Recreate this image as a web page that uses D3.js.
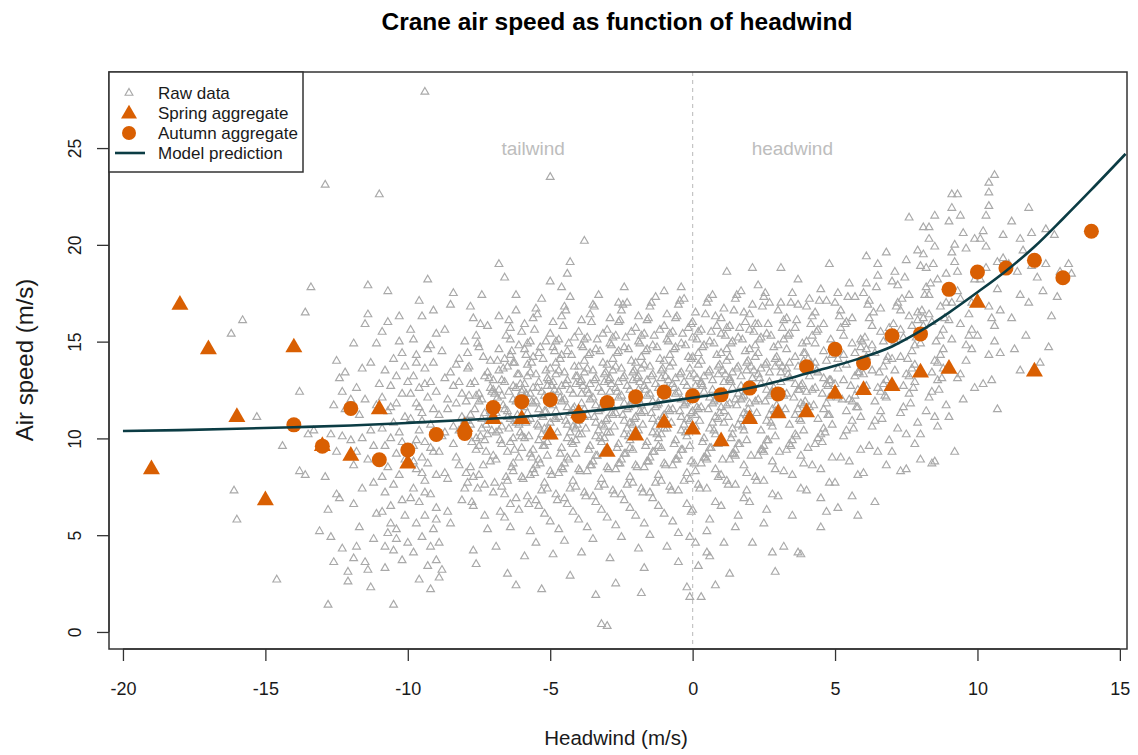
<!DOCTYPE html>
<html>
<head>
<meta charset="utf-8">
<script src="https://cdn.jsdelivr.net/npm/d3@7"></script>
<style>
  body { margin: 0; background: #fff; }
  text { font-family: "Liberation Sans", Arial, sans-serif; }
</style>
</head>
<body>
<script>
// axis ticks
const xTicks = [-20, -15, -10, -5, 0, 5, 10, 15];
const yTicks = [0, 5, 10, 15, 20, 25];

// aggregates (per whole m/s of headwind)
const springX = [-19, -18, -17, -16, -15, -14, -13, -12, -11, -10, -8, -7, -6, -5, -4, -3, -2, -1, 0, 1, 2, 3, 4, 5, 6, 7, 8, 9, 10, 12];
const springY = [8.4, 16.9, 14.6, 11.1, 6.8, 14.7, 9.6, 9.1, 11.5, 8.7, 10.6, 11.0, 11.0, 10.2, 11.3, 9.3, 10.15, 10.8, 10.45, 9.85, 11.0, 11.3, 11.35, 12.3, 12.5, 12.7, 13.4, 13.6, 17.0, 13.45];
const autumnX = [-14, -13, -12, -11, -10, -9, -8, -7, -6, -5, -4, -3, -2, -1, 0, 1, 2, 3, 4, 5, 6, 7, 8, 9, 10, 11, 12, 13, 14];
const autumnY = [10.7, 9.6, 11.55, 8.9, 9.4, 10.2, 10.25, 11.6, 11.9, 12.0, 11.15, 11.85, 12.15, 12.4, 12.2, 12.25, 12.6, 12.3, 13.7, 14.6, 13.9, 15.3, 15.4, 17.7, 18.6, 18.8, 19.2, 18.3, 20.7];

// model curve
const modelX = [-20, -18, -16, -14, -12, -10, -8, -6, -4, -2, 0, 1, 2, 3, 4, 5, 6, 7, 8, 9, 10, 11, 12, 13, 14, 15.2];
const modelY = [10.38, 10.43, 10.5, 10.58, 10.67, 10.8, 10.95, 11.12, 11.35, 11.68, 12.1, 12.32, 12.6, 12.95, 13.35, 13.75, 14.2, 14.75, 15.55, 16.5, 17.55, 18.65, 19.9, 21.35, 22.85, 24.7];

// raw observations [headwind, air speed]
const rawLeft = [
[-16.2,15.4],[-15.8,16.1],[-16.1,7.3],[-16.0,5.8],[-15.3,11.1],[-14.6,2.7],[-14.4,9.6],[-13.8,8.3],[-13.6,8.1],[-13.4,17.8],[-13.6,16.5],[-13.8,12.4],[-13.1,5.2],[-13.5,10.2],[-13.3,10.4],
[-12.9,23.1],[-12.8,1.4],[-12.4,6.9],[-12.5,7.1],[-12.3,4.3],[-12.6,3.6],[-12.7,4.9],[-12.1,3.1],[-12.1,2.6],[-12.5,14.0],[-12.2,13.4],[-12.4,13.1],[-12.3,12.4],[-12.0,12.0],[-12.7,10.2],[-12.3,10.1],[-12.0,9.9],[-12.5,9.3],[-12.9,8.0],[-12.2,11.5],[-12.6,11.7],[-12.8,6.3],
[-11.9,14.9],[-11.4,17.9],[-11.1,14.9],[-11.9,8.6],[-11.6,7.4],[-11.2,7.7],[-11.9,3.8],[-11.5,3.6],[-11.4,3.2],[-11.3,2.3],[-11.0,22.6],[-11.8,12.6],[-11.5,12.0],[-11.7,11.2],[-11.3,10.4],[-11.6,10.0],[-11.2,9.6],[-11.8,9.3],[-11.4,8.9],[-11.1,6.1],[-11.7,5.4],[-11.2,4.8],[-11.6,13.6],[-11.3,13.9],[-11.0,12.8],[-11.5,15.9],[-11.9,6.6],[-11.1,11.7],[-11.4,16.4],[-11.8,4.4],
[-10.7,17.6],[-10.7,16.0],[-10.9,15.5],[-10.5,1.4],[-10.9,6.2],[-10.6,5.6],[-10.7,5.1],[-10.4,4.8],[-10.8,4.4],[-10.5,4.2],[-10.3,15.0],[-10.2,14.4],[-10.5,14.1],[-10.8,13.5],[-10.4,13.2],[-10.1,13.7],[-10.6,12.7],[-10.2,12.3],[-10.9,12.1],[-10.4,11.8],[-10.7,11.4],[-10.1,11.1],[-10.5,10.8],[-10.9,10.5],[-10.3,10.3],[-10.6,10.0],[-10.2,9.8],[-10.8,9.6],[-10.4,9.2],[-10.1,8.9],[-10.7,8.5],[-10.3,8.1],[-10.5,7.6],[-10.8,7.2],[-10.2,6.8],[-10.6,6.5],[-10.1,6.0],[-10.4,5.3],[-10.0,4.6],[-10.2,3.7],[-10.9,8.0],[-10.3,16.3],[-10.6,11.6],[-10.0,12.9],[-10.8,3.3],
[-9.4,27.9],[-9.8,15.1],[-9.6,2.7],[-9.3,3.4],[-9.9,15.6],[-9.5,16.3],[-9.2,14.8],[-9.7,14.3],[-9.1,13.9],[-9.4,13.6],[-9.8,13.2],[-9.2,12.9],[-9.6,12.6],[-9.0,12.4],[-9.3,12.1],[-9.7,11.8],[-9.1,11.5],[-9.5,11.3],[-9.9,11.0],[-9.2,10.7],[-9.6,10.4],[-9.0,10.1],[-9.4,9.8],[-9.8,9.6],[-9.1,9.3],[-9.5,9.0],[-9.3,8.7],[-9.7,8.4],[-9.0,8.1],[-9.4,7.8],[-9.8,7.4],[-9.2,7.1],[-9.6,6.7],[-9.0,6.4],[-9.4,6.0],[-9.7,5.6],[-9.1,5.3],[-9.5,4.9],[-9.2,4.4],[-9.8,4.1],[-9.0,3.7],[-9.6,17.1],[-9.1,16.6],[-9.3,18.2],[-9.9,12.3],[-9.5,10.9],[-9.2,9.5],[-9.8,8.8],[-9.4,7.2],[-9.0,5.8],[-9.7,13.9],[-9.3,14.6],[-9.6,11.6],[-9.1,10.3],[-9.5,8.2],[-9.9,6.9],[-9.2,2.2],[-9.0,15.4],[-9.4,12.8],[-9.7,9.9]
];
const rawCore = [
[-8.9,11.2],[-8.4,9.7],[-8.7,13.1],[-8.2,10.4],[-8.6,7.9],[-8.1,12.3],[-8.8,14.5],[-8.3,11.8],[-8.5,5.6],[-8.0,10.9],[-8.7,15.6],[-8.2,8.6],[-8.4,12.7],[-8.9,9.3],[-8.6,11.5],[-8.1,6.8],[-8.3,13.8],[-8.8,10.1],[-8.5,16.9],[-8.0,7.4],[-8.6,12.0],[-8.2,14.1],[-8.9,4.6],[-8.4,10.6],[-8.7,8.2],[-8.1,11.1],[-8.5,13.4],[-8.3,9.0],[-8.8,3.2],[-8.0,15.0],[-8.6,6.2],[-8.2,12.9],[-8.4,17.5],[-8.7,10.3],[-8.9,2.8],
[-7.1,11.6],[-7.6,9.4],[-7.3,13.2],[-7.8,10.7],[-7.5,8.1],[-7.0,12.5],[-7.9,14.4],[-7.4,11.0],[-7.7,6.5],[-7.2,10.2],[-7.6,15.3],[-7.1,8.8],[-7.8,12.8],[-7.3,9.9],[-7.5,11.9],[-7.0,7.2],[-7.9,13.6],[-7.4,10.5],[-7.7,16.2],[-7.2,5.3],[-7.6,12.2],[-7.1,14.0],[-7.8,8.5],[-7.3,11.3],[-7.5,9.6],[-7.0,13.0],[-7.9,7.7],[-7.4,12.0],[-7.7,4.2],[-7.2,15.8],[-7.6,10.0],[-7.1,12.6],[-7.8,11.2],[-7.3,6.0],[-7.5,14.7],[-7.0,9.1],[-7.9,10.9],[-7.4,17.4],[-7.7,8.0],[-7.2,13.4],[-7.6,3.5],[-7.1,11.4],[-7.8,16.8],[-7.3,7.6],[-7.5,12.3],
[-6.8,19.0],[-6.6,18.3],[-6.2,17.4],[-6.9,11.7],[-6.4,9.8],[-6.1,13.3],[-6.7,10.6],[-6.3,8.3],[-6.0,12.4],[-6.8,14.6],[-6.5,11.1],[-6.2,6.9],[-6.9,10.3],[-6.4,15.7],[-6.1,9.0],[-6.6,12.9],[-6.3,10.0],[-6.0,11.8],[-6.7,7.5],[-6.5,13.7],[-6.2,10.8],[-6.8,16.3],[-6.4,5.4],[-6.1,12.1],[-6.6,14.1],[-6.3,8.7],[-6.9,11.3],[-6.0,9.5],[-6.7,13.0],[-6.5,7.8],[-6.2,12.6],[-6.8,10.4],[-6.4,15.1],[-6.1,6.3],[-6.6,11.5],[-6.3,13.9],[-6.0,8.0],[-6.7,12.2],[-6.5,9.3],[-6.2,16.6],[-6.9,4.4],[-6.4,11.0],[-6.1,14.8],[-6.6,7.1],[-6.3,12.7],[-6.0,10.1],[-6.8,13.5],[-6.5,3.0],[-6.2,11.9],[-6.9,8.9],[-6.4,14.3],[-6.1,10.7],[-6.6,5.9],[-6.3,12.0],[-6.0,15.5],[-6.7,9.7],[-6.5,11.4],[-6.2,2.4],[-6.8,12.5],[-6.4,6.6],
[-5.0,23.5],[-5.0,18.1],[-5.9,11.6],[-5.4,9.9],[-5.7,13.4],[-5.2,10.5],[-5.6,8.4],[-5.1,12.7],[-5.8,14.9],[-5.3,11.2],[-5.5,6.8],[-5.0,10.8],[-5.9,15.9],[-5.4,8.9],[-5.7,12.3],[-5.2,9.6],[-5.6,11.8],[-5.1,7.4],[-5.8,13.8],[-5.3,10.2],[-5.5,16.7],[-5.0,5.7],[-5.9,12.1],[-5.4,14.4],[-5.7,8.1],[-5.2,11.4],[-5.6,9.4],[-5.1,13.1],[-5.8,7.0],[-5.3,12.4],[-5.5,4.6],[-5.0,15.4],[-5.9,10.0],[-5.4,12.9],[-5.7,11.0],[-5.2,6.1],[-5.6,14.2],[-5.1,9.1],[-5.8,10.9],[-5.3,17.2],[-5.5,8.6],[-5.0,13.6],[-5.9,3.9],[-5.4,11.5],[-5.7,15.0],[-5.2,7.7],[-5.6,12.6],[-5.1,10.4],[-5.8,13.2],[-5.3,2.2],[-5.5,11.9],[-5.0,8.3],[-5.9,14.6],[-5.4,10.6],[-5.7,5.2],[-5.2,12.2],[-5.6,16.2],[-5.1,9.8],[-5.8,11.3],[-5.3,7.3],[-5.5,13.3],[-5.0,10.1],[-5.9,12.8],[-5.4,6.5],[-5.7,9.2],
[-4.3,19.1],[-4.4,18.5],[-4.6,17.8],[-4.3,2.9],[-4.9,11.7],[-4.4,10.0],[-4.7,13.5],[-4.2,10.6],[-4.6,8.5],[-4.1,12.8],[-4.8,15.0],[-4.3,11.3],[-4.5,6.9],[-4.0,10.9],[-4.9,16.0],[-4.4,9.0],[-4.7,12.4],[-4.2,9.7],[-4.6,11.9],[-4.1,7.5],[-4.8,13.9],[-4.3,10.3],[-4.5,16.8],[-4.0,5.8],[-4.9,12.2],[-4.4,14.5],[-4.7,8.2],[-4.2,11.5],[-4.6,9.5],[-4.1,13.2],[-4.8,7.1],[-4.3,12.5],[-4.5,4.7],[-4.0,15.5],[-4.9,10.1],[-4.4,13.0],[-4.7,11.1],[-4.2,6.2],[-4.6,14.3],[-4.1,9.2],[-4.8,11.0],[-4.3,17.3],[-4.5,8.7],[-4.0,13.7],[-4.9,4.0],[-4.4,11.6],[-4.7,15.1],[-4.2,7.8],[-4.6,12.7],[-4.1,10.5],[-4.8,13.3],[-4.5,12.0],[-4.0,8.4],[-4.9,14.7],[-4.4,10.7],[-4.7,5.3],[-4.2,12.3],[-4.6,16.3],[-4.1,9.9],[-4.8,11.4],[-4.3,7.4],[-4.5,13.4],[-4.0,10.2],[-4.9,12.9],[-4.4,6.6],
[-3.8,20.2],[-3.4,1.9],[-3.2,0.4],[-3.0,0.3],[-3.9,11.8],[-3.4,10.1],[-3.7,13.6],[-3.2,10.7],[-3.6,8.6],[-3.1,12.9],[-3.8,15.1],[-3.3,11.4],[-3.5,7.0],[-3.0,11.0],[-3.9,16.1],[-3.4,9.1],[-3.7,12.5],[-3.2,9.8],[-3.6,12.0],[-3.1,7.6],[-3.8,14.0],[-3.3,10.4],[-3.5,16.9],[-3.0,5.9],[-3.9,12.3],[-3.4,14.6],[-3.7,8.3],[-3.2,11.6],[-3.6,9.6],[-3.1,13.3],[-3.8,7.2],[-3.3,12.6],[-3.5,4.8],[-3.0,15.6],[-3.9,10.2],[-3.4,13.1],[-3.7,11.2],[-3.2,6.3],[-3.6,14.4],[-3.1,9.3],[-3.8,11.1],[-3.3,17.4],[-3.5,8.8],[-3.0,13.8],[-3.9,4.1],[-3.4,11.7],[-3.7,15.2],[-3.2,7.9],[-3.6,12.8],[-3.1,10.6],[-3.8,13.4],[-3.5,12.1],[-3.0,8.5],[-3.9,14.8],[-3.4,10.8],[-3.7,5.4],[-3.2,12.4],[-3.6,16.4],[-3.1,10.0],[-3.8,11.5],[-3.3,7.5],[-3.5,13.5],[-3.0,10.3],[-3.9,13.0],[-3.4,6.7],
[-2.4,17.8],[-2.6,17.0],[-2.9,11.9],[-2.4,10.2],[-2.7,13.7],[-2.2,10.8],[-2.6,8.7],[-2.1,13.0],[-2.8,15.2],[-2.3,11.5],[-2.5,7.1],[-2.0,11.1],[-2.9,16.2],[-2.4,9.2],[-2.7,12.6],[-2.2,9.9],[-2.6,12.1],[-2.1,7.7],[-2.8,14.1],[-2.3,10.5],[-2.5,16.6],[-2.0,6.0],[-2.9,12.4],[-2.4,14.7],[-2.7,8.4],[-2.2,11.7],[-2.6,9.7],[-2.1,13.4],[-2.8,7.3],[-2.3,12.7],[-2.5,4.9],[-2.0,15.7],[-2.9,10.3],[-2.4,13.2],[-2.7,11.3],[-2.2,6.4],[-2.6,14.5],[-2.1,9.4],[-2.8,11.2],[-2.3,17.0],[-2.5,8.9],[-2.0,13.9],[-2.9,3.8],[-2.4,11.8],[-2.7,15.3],[-2.2,8.0],[-2.6,12.9],[-2.1,10.7],[-2.8,13.5],[-2.5,12.2],[-2.0,8.6],[-2.9,14.9],[-2.4,10.9],[-2.7,5.5],[-2.2,12.5],[-2.6,16.0],[-2.1,10.1],[-2.8,11.6],[-2.3,7.6],[-2.5,13.6],[-2.0,10.4],[-2.9,13.1],[-2.4,6.8],[-2.7,2.5],[-2.2,9.5],
[-1.8,2.0],[-1.9,12.0],[-1.4,10.3],[-1.7,13.8],[-1.2,10.9],[-1.6,8.8],[-1.1,13.1],[-1.8,15.3],[-1.3,11.6],[-1.5,7.2],[-1.0,11.2],[-1.9,16.3],[-1.4,9.3],[-1.7,12.7],[-1.2,10.0],[-1.6,12.2],[-1.1,7.8],[-1.8,14.2],[-1.3,10.6],[-1.5,16.8],[-1.0,6.1],[-1.9,12.5],[-1.4,14.8],[-1.7,8.5],[-1.2,11.8],[-1.6,9.8],[-1.1,13.5],[-1.8,7.4],[-1.3,12.8],[-1.5,5.0],[-1.0,15.8],[-1.9,10.4],[-1.4,13.3],[-1.7,11.4],[-1.2,6.5],[-1.6,14.6],[-1.1,9.5],[-1.8,11.3],[-1.3,17.3],[-1.5,9.0],[-1.0,14.0],[-1.9,4.3],[-1.4,11.9],[-1.7,15.4],[-1.2,8.1],[-1.6,13.0],[-1.1,10.8],[-1.8,13.6],[-1.5,12.3],[-1.0,8.7],[-1.9,15.0],[-1.4,11.0],[-1.7,5.6],[-1.2,12.6],[-1.6,16.1],[-1.1,10.2],[-1.8,11.7],[-1.3,7.7],[-1.5,13.7],[-1.0,10.5],[-1.9,13.2],[-1.4,6.9],[-1.7,3.3],[-1.2,9.6],[-1.0,17.6],
[-0.4,17.8],[-0.1,1.8],[-0.2,2.3],[-0.9,12.1],[-0.4,10.4],[-0.7,13.9],[-0.2,11.0],[-0.6,8.9],[-0.1,13.2],[-0.8,15.4],[-0.3,11.7],[-0.5,7.3],[-0.05,11.3],[-0.9,16.4],[-0.4,9.4],[-0.7,12.8],[-0.2,10.1],[-0.6,12.3],[-0.1,7.9],[-0.8,14.3],[-0.3,10.7],[-0.5,16.9],[-0.05,6.2],[-0.9,12.6],[-0.4,14.9],[-0.7,8.6],[-0.2,11.9],[-0.6,9.9],[-0.1,13.6],[-0.8,7.5],[-0.3,12.9],[-0.5,5.1],[-0.05,15.9],[-0.9,10.5],[-0.4,13.4],[-0.7,11.5],[-0.2,6.6],[-0.6,14.7],[-0.1,9.6],[-0.8,11.4],[-0.3,17.2],[-0.5,9.1],[-0.05,14.1],[-0.9,4.4],[-0.4,12.0],[-0.7,15.5],[-0.2,8.2],[-0.6,13.1],[-0.1,10.9],[-0.8,13.7],[-0.5,12.4],[-0.05,8.8],[-0.9,15.1],[-0.4,11.1],[-0.7,5.7],[-0.2,12.7],[-0.6,16.2],[-0.1,4.9],[-0.3,7.8],[-0.5,3.6],
[0.3,1.8],[0.8,2.4],[0.2,3.4],[0.5,4.1],[0.1,4.6],[0.6,3.9],[0.1,12.2],[0.6,10.5],[0.3,14.0],[0.8,11.1],[0.4,9.0],[0.9,13.3],[0.2,15.5],[0.7,11.8],[0.5,7.4],[0.0,11.4],[0.1,16.5],[0.6,9.5],[0.3,12.9],[0.8,10.2],[0.4,12.4],[0.9,8.0],[0.2,14.4],[0.7,10.8],[0.5,17.0],[0.0,6.3],[0.1,12.7],[0.6,15.0],[0.3,8.7],[0.8,12.0],[0.4,10.0],[0.9,13.7],[0.2,7.6],[0.7,13.0],[0.5,5.2],[0.0,16.0],[0.1,10.6],[0.6,13.5],[0.3,11.6],[0.8,6.7],[0.4,14.8],[0.9,9.7],[0.2,11.5],[0.7,17.4],[0.5,9.2],[0.0,14.2],[0.1,8.3],[0.6,12.1],[0.3,15.6],[0.8,8.4],[0.4,13.2],[0.9,11.0],[0.2,13.8],[0.7,12.5],[0.5,8.9],[0.0,15.2],[0.1,11.2],[0.6,5.8],[0.3,12.8],[0.8,16.3],
[1.2,18.6],[1.3,3.0],[1.1,12.4],[1.6,10.7],[1.3,14.2],[1.8,11.3],[1.4,9.2],[1.9,13.5],[1.2,15.7],[1.7,12.0],[1.5,7.6],[1.0,11.6],[1.1,16.7],[1.6,9.7],[1.3,13.1],[1.8,10.4],[1.4,12.6],[1.9,8.2],[1.2,14.6],[1.7,11.0],[1.5,17.2],[1.0,6.5],[1.1,12.9],[1.6,15.2],[1.3,8.9],[1.8,12.2],[1.4,10.2],[1.9,13.9],[1.2,7.8],[1.7,13.2],[1.5,5.4],[1.0,16.2],[1.1,10.8],[1.6,13.7],[1.3,11.8],[1.8,6.9],[1.4,15.0],[1.9,9.9],[1.2,11.7],[1.7,17.6],[1.5,9.4],[1.0,14.4],[1.1,4.6],[1.6,12.3],[1.3,15.8],[1.8,8.6],[1.4,13.4],[1.9,11.2],[1.2,14.0],[1.7,12.7],[1.5,9.1],[1.0,15.4],[1.1,11.4],[1.6,6.0],[1.3,13.0],[1.8,16.5],[1.4,10.5],[1.9,7.3],[1.5,12.0],[1.0,8.1],
[2.1,18.8],[2.3,17.9],[2.1,4.6],[2.8,4.1],[2.9,3.1],[2.1,12.6],[2.6,10.9],[2.3,14.4],[2.8,11.5],[2.4,9.4],[2.9,13.7],[2.2,15.9],[2.7,12.2],[2.5,7.8],[2.0,11.8],[2.1,16.9],[2.6,9.9],[2.3,13.3],[2.8,10.6],[2.4,12.8],[2.9,8.4],[2.2,14.8],[2.7,11.2],[2.5,17.3],[2.0,6.7],[2.1,13.1],[2.6,15.4],[2.3,9.1],[2.8,12.4],[2.4,10.4],[2.9,14.1],[2.2,8.0],[2.7,13.4],[2.5,5.6],[2.0,16.4],[2.1,11.0],[2.6,13.9],[2.3,12.0],[2.8,7.1],[2.4,15.2],[2.9,10.1],[2.2,11.9],[2.7,17.0],[2.5,9.6],[2.0,14.6],[2.6,12.5],[2.3,15.9],[2.8,8.8],[2.4,13.6],[2.9,11.4],[2.2,14.2],[2.7,12.9],[2.5,9.3],[2.0,15.6],[2.6,6.3],
[3.1,18.8],[3.7,18.2],[3.2,4.4],[3.7,4.1],[3.8,4.0],[3.1,12.9],[3.6,11.2],[3.3,14.6],[3.8,11.8],[3.4,9.7],[3.9,14.0],[3.2,16.1],[3.7,12.5],[3.5,8.1],[3.0,12.1],[3.1,17.0],[3.6,10.2],[3.3,13.6],[3.8,10.9],[3.4,13.1],[3.9,8.7],[3.2,15.1],[3.7,11.5],[3.5,17.5],[3.0,7.0],[3.1,13.4],[3.6,15.7],[3.3,9.4],[3.8,12.7],[3.4,10.7],[3.9,14.4],[3.2,8.3],[3.7,13.7],[3.5,6.0],[3.0,16.6],[3.1,11.3],[3.6,14.2],[3.3,12.3],[3.8,7.4],[3.4,15.4],[3.9,10.4],[3.2,12.2],[3.7,16.9],[3.5,9.9],[3.0,14.8],[3.6,12.8],[3.3,16.2],[3.8,9.1],[3.4,13.9],[3.9,11.7],
[4.8,19.0],[4.5,5.4],[4.7,6.2],[4.1,13.2],[4.6,11.5],[4.3,14.9],[4.8,12.1],[4.4,10.0],[4.9,14.3],[4.2,16.3],[4.7,12.8],[4.5,8.4],[4.0,12.4],[4.1,17.2],[4.6,10.5],[4.3,13.9],[4.8,11.2],[4.4,13.4],[4.9,9.0],[4.2,15.3],[4.7,11.8],[4.5,17.7],[4.0,7.3],[4.1,13.7],[4.6,15.9],[4.3,9.7],[4.8,13.0],[4.4,11.0],[4.9,14.7],[4.2,8.6],[4.7,14.0],[4.5,6.9],[4.0,16.8],[4.1,11.6],[4.6,14.5],[4.3,12.6],[4.8,7.7],[4.4,15.6],[4.9,10.7],[4.2,12.5],[4.7,17.1],[4.5,10.2],[4.0,15.0],[4.6,13.1],[4.3,16.5]
];
// denser middle of the cloud
const rawFill = [
[-7.95,11.9],[-7.45,10.1],[-7.65,12.9],[-7.25,9.3],[-7.85,13.7],[-7.15,11.0],[-7.55,14.9],[-7.35,8.6],[-7.05,12.4],[-7.75,9.8],[-7.45,15.9],[-7.15,13.1],[-7.95,8.2],[-7.65,11.5],[-7.25,10.7],[-7.85,12.2],[-7.55,7.4],[-7.35,14.2],[-7.05,10.4],[-7.75,6.7],
[-6.95,12.3],[-6.45,10.5],[-6.65,13.6],[-6.25,9.4],[-6.85,14.0],[-6.15,11.2],[-6.55,15.3],[-6.35,8.5],[-6.05,12.8],[-6.75,9.9],[-6.45,16.1],[-6.15,13.3],[-6.95,7.7],[-6.65,11.7],[-6.25,10.9],[-6.85,12.1],[-6.55,8.0],[-6.35,14.5],[-6.05,10.3],[-6.75,6.2],[-6.45,12.4],[-6.25,13.9],
[-5.95,12.5],[-5.45,10.7],[-5.65,13.9],[-5.25,9.6],[-5.85,14.3],[-5.15,11.4],[-5.55,15.6],[-5.35,8.7],[-5.05,13.0],[-5.75,10.1],[-5.45,16.4],[-5.15,13.5],[-5.95,7.9],[-5.65,11.9],[-5.25,11.1],[-5.85,12.3],[-5.55,8.2],[-5.35,14.7],[-5.05,10.5],[-5.75,6.6],[-5.45,12.6],[-5.25,14.1],[-5.65,9.0],[-5.15,15.0],[-5.85,10.8],
[-4.95,12.7],[-4.45,10.9],[-4.65,14.1],[-4.25,9.8],[-4.85,14.5],[-4.15,11.6],[-4.55,15.8],[-4.35,8.9],[-4.05,13.2],[-4.75,10.3],[-4.45,16.6],[-4.15,13.7],[-4.95,8.1],[-4.65,12.1],[-4.25,11.3],[-4.85,12.5],[-4.55,8.4],[-4.35,14.9],[-4.05,10.7],[-4.75,6.8],[-4.45,12.8],[-4.25,14.3],[-4.65,9.2],[-4.15,15.2],[-4.85,11.0],
[-3.95,12.9],[-3.45,11.1],[-3.65,14.3],[-3.25,10.0],[-3.85,14.7],[-3.15,11.8],[-3.55,16.0],[-3.35,9.1],[-3.05,13.4],[-3.75,10.5],[-3.45,16.8],[-3.15,13.9],[-3.95,8.3],[-3.65,12.3],[-3.25,11.5],[-3.85,12.7],[-3.55,8.6],[-3.35,15.1],[-3.05,10.9],[-3.75,7.0],[-3.45,13.0],[-3.25,14.5],[-3.65,9.4],[-3.15,15.4],[-3.85,11.2],
[-2.95,13.0],[-2.45,11.2],[-2.65,14.4],[-2.25,10.1],[-2.85,14.8],[-2.15,11.9],[-2.55,16.1],[-2.35,9.2],[-2.05,13.5],[-2.75,10.6],[-2.45,16.9],[-2.15,14.0],[-2.95,8.4],[-2.65,12.4],[-2.25,11.6],[-2.85,12.8],[-2.55,8.7],[-2.35,15.2],[-2.05,11.0],[-2.75,7.1],[-2.45,13.1],[-2.25,14.6],[-2.65,9.5],[-2.15,15.5],[-2.85,11.3],
[-1.95,13.1],[-1.45,11.3],[-1.65,14.5],[-1.25,10.2],[-1.85,14.9],[-1.15,12.0],[-1.55,16.2],[-1.35,9.3],[-1.05,13.6],[-1.75,10.7],[-1.45,17.0],[-1.15,14.1],[-1.95,8.5],[-1.65,12.5],[-1.25,11.7],[-1.85,12.9],[-1.55,8.8],[-1.35,15.3],[-1.05,11.1],[-1.75,7.2],[-1.45,13.2],[-1.25,14.7],[-1.65,9.6],[-1.15,15.6],[-1.85,11.4],
[-0.95,13.2],[-0.45,11.4],[-0.65,14.6],[-0.25,10.3],[-0.85,15.0],[-0.15,12.1],[-0.55,16.3],[-0.35,9.4],[-0.95,8.6],[-0.75,10.8],[-0.45,17.1],[-0.15,14.2],[-0.65,12.6],[-0.25,11.8],[-0.85,13.0],[-0.55,8.9],[-0.35,15.4],[-0.75,7.3],[-0.45,13.3],[-0.25,14.8],[-0.65,9.7],[-0.15,15.7],[-0.85,11.5],
[0.05,13.3],[0.55,11.5],[0.35,14.7],[0.75,10.4],[0.15,15.1],[0.85,12.2],[0.45,16.4],[0.65,9.5],[0.95,13.8],[0.25,10.9],[0.55,17.2],[0.85,14.3],[0.05,8.7],[0.35,12.7],[0.75,11.9],[0.15,13.1],[0.45,9.0],[0.65,15.5],[0.95,11.3],[0.25,7.4],[0.55,13.4],[0.75,14.9],[0.35,9.8],[0.85,15.8],[0.15,11.6],
[1.05,13.5],[1.55,11.7],[1.35,14.9],[1.75,10.6],[1.15,15.3],[1.85,12.4],[1.45,16.6],[1.65,9.7],[1.95,14.0],[1.25,11.1],[1.55,17.4],[1.85,14.5],[1.05,8.9],[1.35,12.9],[1.75,12.1],[1.15,13.3],[1.45,9.2],[1.65,15.7],[1.95,11.5],[1.25,7.6],[1.55,13.6],[1.75,15.1],[1.35,10.0],[1.85,16.0],
[2.05,13.7],[2.55,11.9],[2.35,15.1],[2.75,10.8],[2.15,15.5],[2.85,12.6],[2.45,16.8],[2.65,9.9],[2.95,14.2],[2.25,11.3],[2.55,17.5],[2.85,14.7],[2.05,9.1],[2.35,13.1],[2.75,12.3],[2.15,13.5],[2.45,9.4],[2.65,15.9],[2.95,11.7],[2.25,7.8],[2.55,13.8],[2.75,15.3],
[3.05,13.9],[3.55,12.1],[3.35,15.3],[3.75,11.0],[3.15,15.7],[3.85,12.8],[3.45,17.0],[3.65,10.1],[3.95,14.4],[3.25,11.5],[3.85,14.9],[3.05,9.3],[3.35,13.3],[3.75,12.5],[3.15,13.7],[3.45,9.6],[3.65,16.1],[3.95,11.9],
[4.05,14.1],[4.55,12.3],[4.35,15.5],[4.75,11.2],[4.15,15.9],[4.85,13.0],[4.45,17.1],[4.65,10.3],[4.95,14.6],[4.25,11.7],[4.85,15.1],[4.05,9.5],[4.35,13.5],[4.75,12.7],[4.15,13.9],[4.55,9.8],
[5.05,14.5],[5.55,12.7],[5.35,15.9],[5.75,11.6],[5.15,16.3],[5.85,13.4],[5.45,17.3],[5.65,10.5],[5.95,15.0],[5.25,12.0],[6.05,15.2],[6.55,13.4],[6.35,16.5],[6.75,12.2],[6.15,16.9],[6.85,14.2],[6.45,17.8],[6.65,11.0],
[7.05,15.9],[7.55,14.1],[7.35,17.2],[7.75,12.6],[7.15,16.8],[7.85,15.2],[7.45,18.3],[7.65,11.8],[8.05,16.6],[8.55,15.0],[8.35,18.0],[8.75,13.1],[8.15,17.4],[8.85,16.2],[8.45,19.0],[8.65,12.5]
];
const rawRight = [
[5.1,6.4],[5.8,6.0],[5.6,7.0],[5.1,13.6],[5.6,11.9],[5.3,15.3],[5.8,12.5],[5.4,10.4],[5.9,14.7],[5.2,16.6],[5.7,13.2],[5.5,8.8],[5.0,12.8],[5.1,17.5],[5.6,10.9],[5.3,14.3],[5.8,11.6],[5.4,13.8],[5.9,9.4],[5.2,15.7],[5.7,12.2],[5.5,18.0],[5.0,7.7],[5.1,14.1],[5.6,16.2],[5.3,10.1],[5.8,13.4],[5.4,11.4],[5.9,15.1],[5.2,9.0],[5.7,14.4],[5.5,12.0],[5.0,17.0],[5.1,12.1],[5.6,14.9],[5.3,13.0],[5.8,8.1],[5.4,16.0],[5.9,11.1],[5.7,17.3],
[6.1,19.4],[6.8,19.6],[6.5,19.0],[6.4,6.7],[6.1,14.2],[6.6,12.4],[6.3,15.8],[6.8,13.0],[6.4,10.9],[6.9,15.2],[6.2,17.1],[6.7,13.7],[6.5,9.3],[6.0,13.3],[6.1,18.0],[6.6,11.4],[6.3,14.8],[6.8,12.1],[6.4,14.4],[6.9,9.9],[6.2,16.2],[6.7,12.8],[6.5,18.4],[6.0,8.2],[6.1,14.6],[6.6,16.7],[6.3,10.6],[6.8,14.0],[6.4,11.9],[6.9,15.7],[6.2,9.6],[6.7,15.0],[6.5,12.6],[6.0,17.5],[6.1,12.7],[6.6,15.5],[6.3,13.5],[6.8,8.6],
[7.6,21.4],[7.9,19.7],[7.3,8.3],[7.5,8.4],[7.1,15.0],[7.6,13.2],[7.3,16.6],[7.8,13.8],[7.4,11.6],[7.9,16.1],[7.2,17.9],[7.7,14.5],[7.5,10.2],[7.0,14.1],[7.1,18.6],[7.6,12.3],[7.3,15.6],[7.8,12.9],[7.4,15.2],[7.9,10.8],[7.2,17.0],[7.7,13.6],[7.5,19.2],[7.0,9.3],[7.1,15.4],[7.6,17.4],[7.3,11.3],[7.8,14.8],[7.4,12.7],[7.9,16.5],[7.2,10.5],[7.7,15.8],[7.5,13.3],[7.0,18.1],[7.1,13.5],[7.6,16.3],[7.3,14.2],[7.8,9.7],
[8.5,21.5],[8.1,20.9],[8.3,20.9],[8.3,20.3],[8.5,8.8],[8.4,8.7],[8.0,8.9],[8.1,15.8],[8.6,13.9],[8.3,17.4],[8.8,14.6],[8.4,12.4],[8.9,17.0],[8.2,18.8],[8.7,15.3],[8.5,11.1],[8.0,14.9],[8.1,19.5],[8.6,13.0],[8.3,16.4],[8.8,13.6],[8.4,16.0],[8.9,11.7],[8.2,17.8],[8.7,14.3],[8.5,19.9],[8.0,10.2],[8.1,16.2],[8.6,18.2],[8.3,12.1],[8.8,15.6],[8.4,13.4],[8.9,18.5],[8.2,11.4],[8.7,16.8],[8.5,14.0],[8.0,18.9],[8.6,10.6],
[9.1,22.6],[9.3,22.6],[9.1,21.9],[9.4,21.5],[9.0,21.2],[9.2,9.3],[9.1,17.0],[9.6,14.8],[9.3,18.6],[9.8,15.6],[9.4,13.3],[9.9,18.2],[9.2,20.0],[9.7,16.4],[9.5,12.0],[9.0,16.1],[9.1,19.6],[9.6,14.0],[9.3,17.6],[9.8,14.6],[9.4,17.2],[9.9,12.6],[9.2,19.1],[9.7,15.3],[9.5,20.6],[9.0,11.1],[9.1,15.1],[9.6,19.8],[9.3,13.1],[9.8,17.0],[9.4,15.9],[9.9,20.3],
[10.6,23.6],[10.4,23.2],[10.4,22.7],[10.4,22.0],[10.3,21.5],[10.7,11.5],[10.1,18.2],[10.6,15.8],[10.3,19.9],[10.8,16.6],[10.4,14.3],[10.9,19.3],[10.2,20.7],[10.7,17.7],[10.5,13.0],[10.0,17.2],[10.1,20.3],[10.6,15.0],[10.3,18.8],[10.8,14.4],[10.4,16.8],[10.9,20.5],[10.2,12.8],[10.7,19.1],[10.5,16.2],[10.0,15.3],
[11.8,21.9],[11.2,21.2],[11.5,20.3],[11.6,19.7],[11.1,19.0],[11.4,18.6],[11.9,18.9],[11.5,17.4],[11.8,17.0],[11.5,13.5],[11.2,16.2],[11.7,15.3],[11.3,14.6],[11.9,20.6],
[12.4,20.8],[12.7,20.5],[12.5,14.7],[12.8,17.3],[12.3,17.6],[12.4,19.0],[12.9,18.6],[12.1,18.3],[12.6,16.3],[12.2,13.9],
[13.3,18.5],[13.2,19.0]
];

const W = 1138, H = 755;
const orange = "#D95F02", teal = "#0B3C44", grey = "#a9a9a9", ink = "#1a1a1a";

const svg = d3.select("body").append("svg")
    .attr("width", W)
    .attr("height", H);

const x = d3.scaleLinear().domain([-20.49, 15.25]).range([109, 1127]);
const y = d3.scaleLinear().domain([-0.88, 28.93]).range([649, 72]);

// triangle paths, centred on the point
const tri = s => `M0,${-s * 0.577}L${s / 2},${s * 0.289}L${-s / 2},${s * 0.289}Z`;

// raw data
const raw = rawLeft.concat(rawCore, rawFill, rawRight);
svg.append("g").selectAll("path")
    .data(raw)
    .enter()
    .append("path")
    .attr("d", tri(7.8))
    .attr("transform", d => `translate(${x(d[0])},${y(d[1])})`)
    .attr("fill", "none")
    .attr("stroke", grey)
    .attr("stroke-width", 1.15);

// zero line and labels
svg.append("line")
    .attr("x1", x(0)).attr("x2", x(0))
    .attr("y1", 72).attr("y2", 649)
    .attr("stroke", "#c4c4c4")
    .attr("stroke-width", 1.2)
    .attr("stroke-dasharray", "4,4");

svg.append("text").attr("x", x(-5.6)).attr("y", y(25)).attr("dy", "0.35em")
    .attr("text-anchor", "middle").attr("font-size", 19).attr("fill", "#bdbdbd").text("tailwind");
svg.append("text").attr("x", x(3.5)).attr("y", y(25)).attr("dy", "0.35em")
    .attr("text-anchor", "middle").attr("font-size", 19).attr("fill", "#bdbdbd").text("headwind");

// spring aggregate
svg.append("g").selectAll("path")
    .data(springX.map((v, i) => [v, springY[i]]))
    .enter()
    .append("path")
    .attr("d", tri(17))
    .attr("transform", d => `translate(${x(d[0])},${y(d[1])})`)
    .attr("fill", orange);

// autumn aggregate
svg.append("g").selectAll("circle")
    .data(autumnX.map((v, i) => [v, autumnY[i]]))
    .enter()
    .append("circle")
    .attr("cx", d => x(d[0]))
    .attr("cy", d => y(d[1]))
    .attr("r", 7.5)
    .attr("fill", orange);

// model prediction
const line = d3.line()
    .x(d => x(d[0]))
    .y(d => y(d[1]))
    .curve(d3.curveMonotoneX);
svg.append("path")
    .datum(modelX.map((v, i) => [v, modelY[i]]))
    .attr("d", line)
    .attr("fill", "none")
    .attr("stroke", teal)
    .attr("stroke-width", 2.6);

// axes
const xAxis = svg.append("g")
    .attr("transform", "translate(0,649)")
    .call(d3.axisBottom(x).tickValues(xTicks).tickFormat(d => String(d))
        .tickSize(12).tickPadding(21).tickSizeOuter(0));
xAxis.select(".domain").attr("d", `M${x(-20)},0H${x(15)}`);
xAxis.selectAll("text").attr("font-size", 18).attr("fill", ink)
    .style("font-family", "'Liberation Sans', Arial, sans-serif");

const yAxis = svg.append("g")
    .attr("transform", "translate(109,0)")
    .call(d3.axisLeft(y).tickValues(yTicks).tickFormat(d => String(d)).tickSize(12).tickSizeOuter(0));
yAxis.select(".domain").attr("d", `M0,${y(0)}V${y(25)}`);
yAxis.selectAll("text")
    .attr("font-size", 17.5).attr("fill", ink)
    .style("font-family", "'Liberation Sans', Arial, sans-serif")
    .attr("x", null).attr("dy", null)
    .attr("text-anchor", "middle")
    .attr("transform", "translate(-34,0) rotate(-90)")
    .attr("y", 6);
svg.selectAll(".tick line, .domain").attr("stroke", "#333").attr("stroke-width", 1.3);

// plot box
svg.append("rect")
    .attr("x", 109).attr("y", 72)
    .attr("width", 1127 - 109).attr("height", 649 - 72)
    .attr("fill", "none")
    .attr("stroke", "#333")
    .attr("stroke-width", 1.5);

// titles
svg.append("text").attr("x", 617).attr("y", 30).attr("text-anchor", "middle")
    .attr("font-size", 24.5).attr("font-weight", "bold").attr("fill", "#000")
    .text("Crane air speed as function of headwind");
svg.append("text").attr("x", 616).attr("y", 745).attr("text-anchor", "middle")
    .attr("font-size", 20.5).attr("fill", ink).text("Headwind (m/s)");
svg.append("text").attr("transform", "translate(33,360) rotate(-90)").attr("text-anchor", "middle")
    .attr("font-size", 24).attr("fill", ink).text("Air speed (m/s)");

// legend
const lg = svg.append("g");
lg.append("rect").attr("x", 109).attr("y", 72).attr("width", 194).attr("height", 100)
    .attr("fill", "#fff").attr("stroke", "#333").attr("stroke-width", 1.5);
const rows = ["Raw data", "Spring aggregate", "Autumn aggregate", "Model prediction"];
rows.forEach((t, i) => {
    lg.append("text").attr("x", 158).attr("y", 93 + i * 20).attr("dy", "0.35em")
        .attr("font-size", 17).attr("fill", ink).text(t);
});
lg.append("path").attr("d", tri(7.8)).attr("transform", "translate(129,93)")
    .attr("fill", "none").attr("stroke", grey).attr("stroke-width", 1.15);
lg.append("path").attr("d", tri(16)).attr("transform", "translate(129,114)").attr("fill", orange);
lg.append("circle").attr("cx", 129).attr("cy", 133).attr("r", 7).attr("fill", orange);
lg.append("line").attr("x1", 115).attr("x2", 145).attr("y1", 153).attr("y2", 153)
    .attr("stroke", teal).attr("stroke-width", 2.6);
</script>
</body>
</html>
